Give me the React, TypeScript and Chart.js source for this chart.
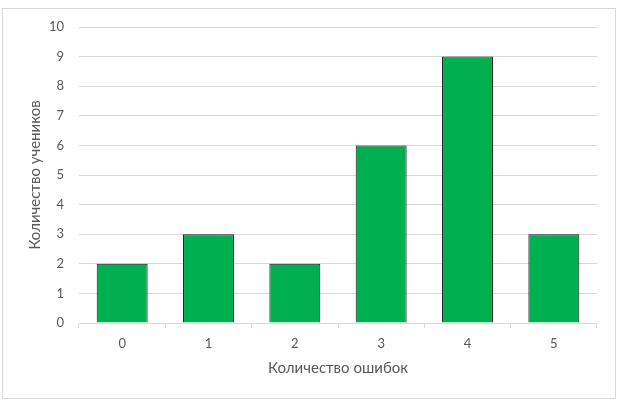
import React, { useEffect, useRef } from "react";
import { Chart, registerables } from "chart.js";

Chart.register(...registerables);

const categories = ["0", "1", "2", "3", "4", "5"];
const students = [2, 3, 2, 6, 9, 3];
const yMin = 0;
const yMax = 10;
const yStep = 1;
const xTitle = "Количество ошибок";
const yTitle = "Количество учеников";

const FONT = "Lato, 'Open Sans', sans-serif";
const TEXT = "#595959";
const GRID = "#d9d9d9";

export default function App() {
  const ref = useRef<HTMLCanvasElement>(null);
  useEffect(() => {
    const chart = new Chart(ref.current!, {
      type: "bar",
      data: {
        labels: categories,
        datasets: [
          {
            data: students,
            backgroundColor: "#00B050",
            borderColor: "#1a1a1a",
            borderWidth: 1,
            categoryPercentage: 1,
            barPercentage: 0.59,
          },
        ],
      },
      options: {
        animation: false,
        responsive: false,
        maintainAspectRatio: false,
        layout: { padding: { left: 0, top: 27, right: 23, bottom: 26 } },
        plugins: { legend: { display: false }, tooltip: { enabled: false } },
        scales: {
          x: {
            grid: {
              display: true,
              drawOnChartArea: false,
              drawTicks: true,
              tickLength: 5,
              color: GRID,
              offset: true,
            },
            border: { display: true, color: GRID },
            ticks: { color: TEXT, font: { family: FONT, size: 13 }, padding: 8 },
            title: {
              display: true,
              text: xTitle,
              color: TEXT,
              font: { family: FONT, size: 15 },
              padding: { top: 3, bottom: 0 },
            },
            afterFit: (s: any) => {
              s.height = 54;
            },
          },
          y: {
            min: yMin,
            max: yMax,
            grid: { color: GRID, drawTicks: false },
            border: { display: false },
            ticks: {
              stepSize: yStep,
              color: TEXT,
              font: { family: FONT, size: 13 },
              padding: 15,
            },
            title: {
              display: true,
              text: yTitle,
              color: TEXT,
              font: { family: FONT, size: 15 },
              padding: { top: 26, bottom: 0 },
            },
            afterFit: (s: any) => {
              s.width = 79;
            },
          },
        },
      },
    });
    return () => chart.destroy();
  }, []);
  return (
    <div style={{ position: "fixed", left: 0, top: 0, width: 620, height: 403, background: "#fff" }}>
      <div
        style={{
          position: "absolute",
          left: 2,
          top: 8,
          width: 612,
          height: 389,
          border: "1px solid #d9d9d9",
        }}
      />
      <canvas ref={ref} width={620} height={403} style={{ position: "absolute", left: 0, top: 0 }} />
    </div>
  );
}
